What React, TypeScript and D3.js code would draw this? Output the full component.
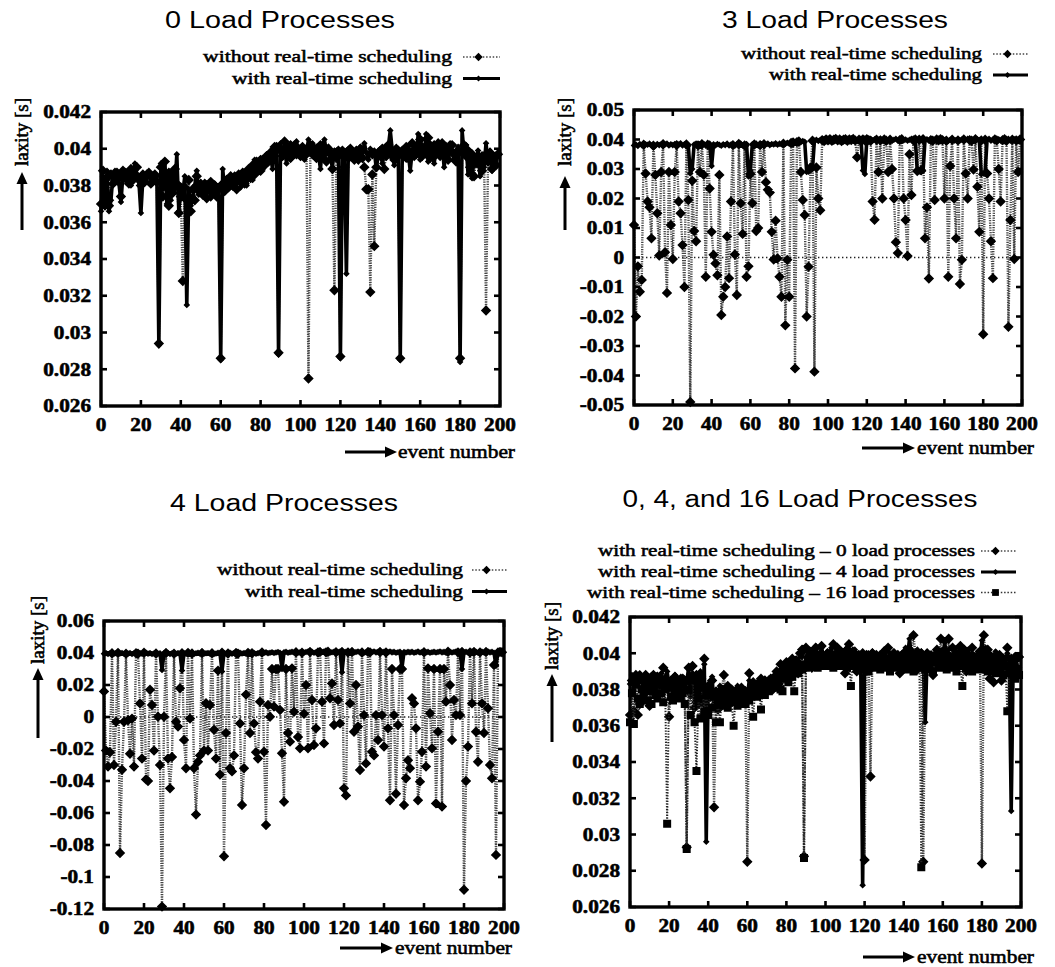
import React from 'react';
import * as d3 from 'd3';

// ---------------- data ----------------
const X_TICKS = [0, 20, 40, 60, 80, 100, 120, 140, 160, 180, 200];
const Y_TICKS_FINE = [0.026, 0.028, 0.03, 0.032, 0.034, 0.036, 0.038, 0.04, 0.042];
const Y_TICKS_3LOAD = [-0.05, -0.04, -0.03, -0.02, -0.01, 0, 0.01, 0.02, 0.03, 0.04, 0.05];
const Y_TICKS_4LOAD = [-0.12, -0.1, -0.08, -0.06, -0.04, -0.02, 0, 0.02, 0.04, 0.06];

const TITLES = ['0 Load Processes', '3 Load Processes', '4 Load Processes', '0, 4, and 16 Load Processes'];
const LEGEND_RT = ['without real-time scheduling', 'with real-time scheduling'];
const LEGEND_MIX = [
  'with real-time scheduling – 0 load processes',
  'with real-time scheduling – 4 load processes',
  'with real-time scheduling – 16 load processes',
];
const Y_LABEL = 'laxity [s]';
const X_LABEL = 'event number';

// 0 load processes, with real-time scheduling (also used in the combined panel)
const RT_0LOAD = [
  0.0366, 0.0385, 0.0368, 0.0388, 0.0366, 0.0372, 0.0386, 0.0384, 0.0388, 0.0381,
  0.0371, 0.0386, 0.0388, 0.0383, 0.0387, 0.0380, 0.0385, 0.0392, 0.0386, 0.0382,
  0.0365, 0.0384, 0.0383, 0.0387, 0.0385, 0.0384, 0.0386, 0.0383, 0.0385, 0.0293,
  0.0392, 0.0378, 0.0393, 0.0370, 0.0388, 0.0372, 0.0384, 0.0378, 0.0397, 0.0366,
  0.0380, 0.0376, 0.0385, 0.0315, 0.0378, 0.0369, 0.0374, 0.0380, 0.0388, 0.0375,
  0.0382, 0.0377, 0.0380, 0.0376, 0.0379, 0.0373, 0.0378, 0.0381, 0.0376, 0.0379,
  0.0285, 0.0389, 0.0378, 0.0384, 0.0380, 0.0383, 0.0379, 0.0386, 0.0381, 0.0385,
  0.0379, 0.0384, 0.0386, 0.0380, 0.0387, 0.0390, 0.0383, 0.0394, 0.0388, 0.0392,
  0.0395, 0.0389, 0.0393, 0.0397, 0.0394, 0.0396, 0.0389, 0.0400, 0.0402, 0.0288,
  0.0403, 0.0398, 0.0401, 0.0392, 0.0400, 0.0403, 0.0396, 0.0399, 0.0404, 0.0397,
  0.0395, 0.0400, 0.0394, 0.0398, 0.0405, 0.0399, 0.0403, 0.0396, 0.0401, 0.0397,
  0.0389, 0.0402, 0.0405, 0.0398, 0.0401, 0.0395, 0.0390, 0.0399, 0.0394, 0.0400,
  0.0286, 0.0399, 0.0396, 0.0332, 0.0400, 0.0397, 0.0399, 0.0395, 0.0398, 0.0393,
  0.0401, 0.0396, 0.0403, 0.0398, 0.0394, 0.0400, 0.0396, 0.0399, 0.0389, 0.0397,
  0.0400, 0.0392, 0.0398, 0.0395, 0.0401, 0.0410, 0.0399, 0.0391, 0.0397, 0.0400,
  0.0285, 0.0396, 0.0400, 0.0394, 0.0398, 0.0388, 0.0399, 0.0402, 0.0396, 0.0408,
  0.0394, 0.0402, 0.0397, 0.0408, 0.0393, 0.0403, 0.0398, 0.0392, 0.0400, 0.0404,
  0.0397, 0.0402, 0.0390, 0.0399, 0.0396, 0.0403, 0.0398, 0.0394, 0.0399, 0.0401,
  0.0284, 0.0410, 0.0397, 0.0402, 0.0386, 0.0398, 0.0384, 0.0395, 0.0391, 0.0399,
  0.0385, 0.0397, 0.0390, 0.0403, 0.0392, 0.0397, 0.0388, 0.0396, 0.0392, 0.0398,
];

// 0 load processes, without real-time scheduling
const NORT_0LOAD = [
  0.0370, 0.0388, 0.0376, 0.0384, 0.0369, 0.0386, 0.0381, 0.0387, 0.0383, 0.0385,
  0.0374, 0.0388, 0.0384, 0.0386, 0.0381, 0.0389, 0.0383, 0.0386, 0.0390, 0.0384,
  0.0380, 0.0386, 0.0382, 0.0385, 0.0387, 0.0381, 0.0384, 0.0386, 0.0382, 0.0294,
  0.0390, 0.0374, 0.0393, 0.0383, 0.0369, 0.0386, 0.0376, 0.0389, 0.0381, 0.0365,
  0.0374, 0.0328, 0.0379, 0.0372, 0.0383, 0.0366, 0.0378, 0.0372, 0.0385, 0.0377,
  0.0379, 0.0375, 0.0381, 0.0373, 0.0378, 0.0382, 0.0376, 0.0380, 0.0374, 0.0378,
  0.0286, 0.0381, 0.0377, 0.0383, 0.0379, 0.0385, 0.0380, 0.0384, 0.0378, 0.0386,
  0.0382, 0.0387, 0.0381, 0.0385, 0.0389, 0.0384, 0.0391, 0.0386, 0.0393, 0.0390,
  0.0388, 0.0394, 0.0391, 0.0396, 0.0393, 0.0398, 0.0395, 0.0401, 0.0399, 0.0289,
  0.0400, 0.0396, 0.0404, 0.0398, 0.0401, 0.0395, 0.0399, 0.0402, 0.0397, 0.0400,
  0.0398, 0.0401, 0.0396, 0.0399, 0.0275, 0.0402, 0.0397, 0.0400, 0.0395, 0.0399,
  0.0402, 0.0396, 0.0399, 0.0393, 0.0400, 0.0397, 0.0389, 0.0323, 0.0398, 0.0396,
  0.0287, 0.0399, 0.0390, 0.0398, 0.0395, 0.0400, 0.0397, 0.0394, 0.0399, 0.0396,
  0.0400, 0.0395, 0.0390, 0.0378, 0.0378, 0.0322, 0.0386, 0.0347, 0.0390, 0.0398,
  0.0396, 0.0400, 0.0389, 0.0398, 0.0402, 0.0397, 0.0399, 0.0394, 0.0400, 0.0396,
  0.0286, 0.0399, 0.0397, 0.0401, 0.0395, 0.0398, 0.0403, 0.0396, 0.0400, 0.0398,
  0.0405, 0.0396, 0.0400, 0.0398, 0.0406, 0.0395, 0.0399, 0.0402, 0.0397, 0.0400,
  0.0396, 0.0403, 0.0398, 0.0401, 0.0394, 0.0399, 0.0402, 0.0397, 0.0393, 0.0399,
  0.0286, 0.0398, 0.0402, 0.0396, 0.0399, 0.0390, 0.0397, 0.0385, 0.0394, 0.0392,
  0.0395, 0.0388, 0.0396, 0.0312, 0.0393, 0.0398, 0.0389, 0.0395, 0.0391, 0.0397,
];

// 3 load processes, with real-time scheduling
const RT_3LOAD = [
  0.0380, 0.0383, 0.0378, 0.0385, 0.0381, 0.0379, 0.0384, 0.0382, 0.0386, 0.0380,
  0.0383, 0.0379, 0.0385, 0.0381, 0.0384, 0.0378, 0.0383, 0.0386, 0.0380, 0.0384,
  0.0381, 0.0385, 0.0379, 0.0383, 0.0387, 0.0380, 0.0384, 0.0382, 0.0379, 0.0285,
  0.0300, 0.0383, 0.0386, 0.0380, 0.0384, 0.0381, 0.0385, 0.0379, 0.0383, 0.0386,
  0.0310, 0.0384, 0.0380, 0.0385, 0.0382, 0.0379, 0.0384, 0.0381, 0.0386, 0.0380,
  0.0383, 0.0385, 0.0379, 0.0384, 0.0381, 0.0386, 0.0380, 0.0383, 0.0385, 0.0275,
  0.0295, 0.0384, 0.0381, 0.0386, 0.0380, 0.0385, 0.0382, 0.0379, 0.0384, 0.0386,
  0.0381, 0.0385, 0.0383, 0.0387, 0.0382, 0.0386, 0.0384, 0.0388, 0.0385, 0.0389,
  0.0386, 0.0390, 0.0388, 0.0392, 0.0389, 0.0393, 0.0391, 0.0395, 0.0392, 0.0290,
  0.0291, 0.0295, 0.0300, 0.0396, 0.0399, 0.0395, 0.0398, 0.0401, 0.0396, 0.0399,
  0.0397, 0.0400, 0.0395, 0.0399, 0.0402, 0.0396, 0.0398, 0.0401, 0.0397, 0.0400,
  0.0396, 0.0399, 0.0402, 0.0397, 0.0400, 0.0395, 0.0398, 0.0401, 0.0295, 0.0283,
  0.0399, 0.0396, 0.0400, 0.0397, 0.0401, 0.0395, 0.0399, 0.0402, 0.0396, 0.0398,
  0.0401, 0.0397, 0.0400, 0.0395, 0.0399, 0.0402, 0.0396, 0.0398, 0.0401, 0.0397,
  0.0400, 0.0396, 0.0399, 0.0402, 0.0397, 0.0400, 0.0295, 0.0292, 0.0290, 0.0293,
  0.0398, 0.0401, 0.0396, 0.0400, 0.0397, 0.0399, 0.0402, 0.0396, 0.0398, 0.0401,
  0.0397, 0.0400, 0.0395, 0.0399, 0.0402, 0.0396, 0.0398, 0.0401, 0.0397, 0.0400,
  0.0396, 0.0399, 0.0402, 0.0397, 0.0400, 0.0395, 0.0399, 0.0401, 0.0398, 0.0282,
  0.0285, 0.0290, 0.0399, 0.0402, 0.0396, 0.0400, 0.0397, 0.0399, 0.0401, 0.0396,
  0.0400, 0.0397, 0.0399, 0.0402, 0.0396, 0.0398, 0.0401, 0.0397, 0.0400, 0.0398,
];

// 3 load processes, without real-time scheduling
const NORT_3LOAD = [
  0.011, -0.020, -0.003, -0.0116, -0.0076, 0.0382, 0.0285, 0.019, 0.017, 0.0065,
  0.0379, 0.028, 0.015, 0.0007, 0.029, 0.0384, 0.0018, -0.012, 0.029, 0.011,
  -0.0005, 0.029, 0.0381, 0.019, 0.015, 0.0042, -0.010, 0.0383, 0.0195, -0.049,
  0.026, 0.009, 0.0055, 0.0380, 0.029, 0.0384, 0.028, -0.0065, 0.0382, 0.0234,
  0.0087, 0.0009, -0.002, -0.006, 0.028, -0.0195, -0.0133, -0.010, 0.0071, -0.007,
  0.019, 0.0381, 0.001, -0.0127, 0.0385, 0.0184, 0.008, 0.0380, -0.0065, -0.003,
  0.0283, 0.0184, 0.0383, 0.009, 0.010, 0.0381, 0.029, 0.0384, 0.0255, 0.023,
  0.022, 0.0087, -0.0007, 0.0125, -0.0003, -0.0065, -0.0133, 0.0386, -0.023, -0.0008,
  -0.0133, 0.0388, 0.0390, -0.0376, 0.0391, 0.0393, 0.029, 0.0195, 0.0144, -0.020,
  -0.0031, 0.0305, 0.0396, -0.0387, 0.0305, 0.020, 0.016, 0.0398, 0.0395, 0.0400,
  0.0397, 0.0401, 0.0396, 0.0399, 0.0402, 0.0397, 0.0400, 0.0395, 0.0399, 0.0401,
  0.0396, 0.0400, 0.0398, 0.0402, 0.0397, 0.034, 0.0399, 0.0396, 0.0400, 0.0397,
  0.0401, 0.0398, 0.0396, 0.019, 0.0128, 0.0399, 0.029, 0.0397, 0.020, 0.0400,
  0.0396, 0.029, 0.0399, 0.030, 0.020, 0.0052, 0.0015, 0.0398, 0.0401, 0.020,
  0.0127, 0.0005, 0.035, 0.0212, 0.0397, 0.0400, 0.0293, 0.0399, 0.0296, 0.0401,
  0.0065, 0.017, -0.0071, 0.0398, 0.0396, 0.0195, 0.0400, 0.0397, 0.0401, 0.0398,
  0.020, 0.0396, -0.0065, 0.031, 0.0399, 0.020, 0.0065, 0.0397, -0.009, -0.0008,
  0.0400, 0.0285, 0.020, 0.0398, 0.0396, 0.0298, 0.0401, 0.024, 0.0087, 0.0397,
  -0.026, 0.0399, 0.0285, 0.020, 0.0055, -0.007, 0.0400, 0.0397, 0.030, 0.019,
  0.0398, 0.0401, 0.0396, -0.0235, 0.0127, 0.0399, -0.0005, 0.0397, 0.029, 0.0400,
];

// 4 load processes, with real-time scheduling
const RT_4LOAD = [
  0.0396, 0.0399, 0.0394, 0.0398, 0.0401, 0.0395, 0.0398, 0.0393, 0.0397, 0.0400,
  0.0395, 0.0399, 0.0396, 0.0400, 0.0394, 0.0398, 0.0401, 0.0396, 0.0399, 0.0395,
  0.0398, 0.0401, 0.0396, 0.0399, 0.0394, 0.0397, 0.0400, 0.0395, 0.0398, 0.0294,
  0.0399, 0.0396, 0.0400, 0.0394, 0.0398, 0.0401, 0.0395, 0.0399, 0.0396, 0.0290,
  0.0398, 0.0395, 0.0400, 0.0396, 0.0399, 0.0394, 0.0398, 0.0401, 0.0396, 0.0399,
  0.0395, 0.0398, 0.0400, 0.0396, 0.0399, 0.0394, 0.0397, 0.0401, 0.0396, 0.0285,
  0.0399, 0.0395, 0.0398, 0.0401, 0.0396, 0.0400, 0.0394, 0.0398, 0.0401, 0.0397,
  0.0400, 0.0396, 0.0399, 0.0402, 0.0397, 0.0400, 0.0395, 0.0399, 0.0402, 0.0398,
  0.0401, 0.0404, 0.0399, 0.0402, 0.0405, 0.0400, 0.0403, 0.0406, 0.0401, 0.0300,
  0.0404, 0.0407, 0.0402, 0.0405, 0.0408, 0.0403, 0.0406, 0.0402, 0.0405, 0.0408,
  0.0403, 0.0406, 0.0409, 0.0404, 0.0407, 0.0402, 0.0405, 0.0408, 0.0403, 0.0406,
  0.0409, 0.0404, 0.0407, 0.0402, 0.0405, 0.0408, 0.0403, 0.0406, 0.0409, 0.0280,
  0.0404, 0.0407, 0.0402, 0.0405, 0.0408, 0.0403, 0.0406, 0.0409, 0.0404, 0.0407,
  0.0402, 0.0405, 0.0408, 0.0403, 0.0406, 0.0409, 0.0404, 0.0407, 0.0402, 0.0405,
  0.0408, 0.0403, 0.0406, 0.0409, 0.0404, 0.0407, 0.0402, 0.0405, 0.0408, 0.0310,
  0.0406, 0.0403, 0.0407, 0.0404, 0.0408, 0.0402, 0.0405, 0.0409, 0.0403, 0.0406,
  0.0409, 0.0404, 0.0407, 0.0402, 0.0405, 0.0408, 0.0403, 0.0406, 0.0409, 0.0404,
  0.0407, 0.0402, 0.0405, 0.0408, 0.0403, 0.0406, 0.0409, 0.0404, 0.0407, 0.0300,
  0.0405, 0.0408, 0.0403, 0.0406, 0.0409, 0.0404, 0.0407, 0.0402, 0.0405, 0.0408,
  0.0403, 0.0406, 0.0409, 0.0404, 0.0407, 0.0402, 0.0320, 0.0405, 0.0408, 0.0404,
];

// 4 load processes, without real-time scheduling
const NORT_4LOAD = [
  0.016, -0.021, -0.031, -0.022, 0.0398, -0.030, -0.003, 0.0401, -0.085, -0.033,
  -0.003, 0.0396, -0.002, -0.023, -0.001, -0.031, 0.0399, 0.0395, 0.0085, -0.026,
  0.0402, -0.039, -0.040, 0.017, 0.0075, -0.021, 0.0397, 0.0002, -0.030, -0.1185,
  0.0002, 0.0400, -0.026, -0.0446, -0.025, 0.0396, -0.003, -0.006, 0.018, 0.0399,
  -0.0143, -0.032, 0.0401, -0.001, 0.0397, -0.032, -0.061, -0.028, -0.024, 0.0400,
  -0.021, 0.0086, -0.021, 0.0075, 0.0398, -0.008, -0.026, 0.029, -0.036, 0.0402,
  -0.087, -0.010, 0.0397, -0.032, -0.034, -0.024, 0.0400, 0.0396, -0.004, -0.055,
  -0.032, 0.014, 0.0401, -0.010, 0.0398, -0.004, -0.022, -0.026, 0.0096, 0.0403,
  -0.0217, -0.0675, 0.0075, 0.0002, 0.030, 0.0065, 0.030, 0.030, 0.0044, -0.0227,
  -0.053, 0.030, -0.010, -0.0154, 0.0304, 0.0033, 0.0405, -0.0125, -0.0196, 0.0402,
  0.002, 0.020, -0.0196, 0.0406, 0.0106, -0.0175, -0.0071, 0.0403, 0.0407, 0.0096,
  -0.0165, 0.0404, 0.0408, 0.0117, 0.021, -0.005, 0.0405, 0.0106, -0.004, 0.0407,
  -0.0446, -0.049, 0.0404, 0.0085, 0.0406, -0.0092, 0.020, -0.006, -0.0331, 0.0403,
  0.0012, -0.029, 0.0407, 0.0404, -0.0217, -0.024, 0.0012, -0.0144, 0.0406, 0.0012,
  -0.0185, 0.0403, -0.0071, -0.052, 0.030, 0.0012, -0.048, -0.005, 0.030, 0.030,
  -0.055, -0.0383, -0.027, -0.032, 0.0117, 0.0085, -0.0071, -0.052, -0.0404, -0.0217,
  0.0405, -0.031, 0.0304, 0.0023, -0.0196, 0.030, -0.054, -0.0092, 0.030, -0.056,
  0.030, 0.0096, 0.0408, 0.020, -0.0144, 0.0106, 0.0012, 0.0404, 0.0012, 0.0406,
  -0.108, -0.040, -0.0185, 0.0403, 0.0085, 0.0407, -0.0092, -0.028, 0.0404, 0.0085,
  -0.010, 0.0406, 0.0054, -0.030, -0.0383, 0.0325, -0.0862, 0.0403, 0.0407, 0.0405,
];

// combined panel: 4 load processes with real-time scheduling
const RT_4LOAD_FINE = [
  0.0383, 0.0388, 0.0379, 0.0386, 0.0382, 0.0389, 0.0384, 0.0380, 0.0387, 0.0385,
  0.0381, 0.0388, 0.0384, 0.0386, 0.0379, 0.0385, 0.0389, 0.0383, 0.0386, 0.0390,
  0.0382, 0.0386, 0.0384, 0.0388, 0.0381, 0.0385, 0.0383, 0.0387, 0.0380, 0.0384,
  0.0392, 0.0376, 0.0389, 0.0373, 0.0385, 0.0378, 0.0390, 0.0372, 0.0394, 0.0296,
  0.0383, 0.0375, 0.0387, 0.0370, 0.0380, 0.0376, 0.0382, 0.0374, 0.0379, 0.0377,
  0.0381, 0.0376, 0.0380, 0.0374, 0.0378, 0.0382, 0.0375, 0.0379, 0.0377, 0.0380,
  0.0376, 0.0385, 0.0378, 0.0383, 0.0380, 0.0384, 0.0379, 0.0386, 0.0382, 0.0385,
  0.0381, 0.0386, 0.0383, 0.0387, 0.0384, 0.0389, 0.0385, 0.0391, 0.0388, 0.0393,
  0.0389, 0.0394, 0.0391, 0.0396, 0.0393, 0.0397, 0.0395, 0.0400, 0.0398, 0.0401,
  0.0403, 0.0398, 0.0401, 0.0396, 0.0400, 0.0404, 0.0397, 0.0400, 0.0403, 0.0398,
  0.0396, 0.0401, 0.0399, 0.0403, 0.0397, 0.0400, 0.0404, 0.0398, 0.0401, 0.0396,
  0.0400, 0.0403, 0.0397, 0.0401, 0.0398, 0.0402, 0.0395, 0.0399, 0.0396, 0.0272,
  0.0398, 0.0395, 0.0400, 0.0397, 0.0401, 0.0394, 0.0399, 0.0396, 0.0400, 0.0397,
  0.0402, 0.0398, 0.0395, 0.0400, 0.0397, 0.0401, 0.0394, 0.0399, 0.0396, 0.0400,
  0.0397, 0.0403, 0.0399, 0.0408, 0.0396, 0.0400, 0.0397, 0.0402, 0.0398, 0.0401,
  0.0395, 0.0362, 0.0399, 0.0396, 0.0400, 0.0393, 0.0398, 0.0402, 0.0397, 0.0401,
  0.0398, 0.0406, 0.0397, 0.0400, 0.0395, 0.0399, 0.0402, 0.0396, 0.0400, 0.0397,
  0.0401, 0.0395, 0.0399, 0.0402, 0.0397, 0.0400, 0.0394, 0.0398, 0.0401, 0.0396,
  0.0407, 0.0399, 0.0403, 0.0397, 0.0400, 0.0395, 0.0398, 0.0401, 0.0396, 0.0399,
  0.0393, 0.0398, 0.0395, 0.0400, 0.0397, 0.0313, 0.0395, 0.0399, 0.0396, 0.0398,
];

// combined panel: 16 load processes with real-time scheduling
const RT_16LOAD = [
  0.0362, 0.0378, 0.0361, 0.0383, 0.0375, 0.0372, 0.0380, 0.0376, 0.0382, 0.0374,
  0.0379, 0.0372, 0.0381, 0.0377, 0.0375, 0.0383, 0.0378, 0.0373, 0.0380, 0.0306,
  0.0381, 0.0376, 0.0374, 0.0379, 0.0377, 0.0382, 0.0375, 0.0378, 0.0372, 0.0292,
  0.0380, 0.0366, 0.0385, 0.0362, 0.0335, 0.0375, 0.0364, 0.0381, 0.0368, 0.0377,
  0.0366, 0.0379, 0.0370, 0.0376, 0.0362, 0.0372, 0.0362, 0.0375, 0.0371, 0.0374,
  0.0370, 0.0376, 0.0373, 0.0360, 0.0375, 0.0371, 0.0377, 0.0373, 0.0376, 0.0372,
  0.0378, 0.0374, 0.0377, 0.0365, 0.0379, 0.0376, 0.0380, 0.0369, 0.0381, 0.0377,
  0.0383, 0.0379, 0.0384, 0.0381, 0.0386, 0.0382, 0.0385, 0.0380, 0.0379, 0.0386,
  0.0388, 0.0384, 0.0390, 0.0387, 0.0379, 0.0392, 0.0389, 0.0394, 0.0391, 0.0287,
  0.0392, 0.0396, 0.0393, 0.0398, 0.0394, 0.0397, 0.0392, 0.0399, 0.0395, 0.0398,
  0.0393, 0.0397, 0.0394, 0.0399, 0.0392, 0.0396, 0.0398, 0.0393, 0.0397, 0.0394,
  0.0398, 0.0392, 0.0396, 0.0382, 0.0397, 0.0393, 0.0398, 0.0394, 0.0391, 0.0396,
  0.0393, 0.0397, 0.0390, 0.0395, 0.0392, 0.0396, 0.0394, 0.0398, 0.0391, 0.0395,
  0.0392, 0.0397, 0.0394, 0.0390, 0.0396, 0.0393, 0.0398, 0.0392, 0.0395, 0.0393,
  0.0397, 0.0391, 0.0396, 0.0393, 0.0398, 0.0390, 0.0395, 0.0392, 0.0396, 0.0282,
  0.0394, 0.0391, 0.0397, 0.0393, 0.0396, 0.0390, 0.0395, 0.0398, 0.0392, 0.0396,
  0.0393, 0.0397, 0.0391, 0.0395, 0.0392, 0.0398, 0.0394, 0.0390, 0.0396, 0.0393,
  0.0382, 0.0395, 0.0392, 0.0397, 0.0394, 0.0390, 0.0396, 0.0393, 0.0395, 0.0391,
  0.0397, 0.0393, 0.0396, 0.0390, 0.0395, 0.0392, 0.0397, 0.0389, 0.0394, 0.0391,
  0.0395, 0.0388, 0.0393, 0.0368, 0.0392, 0.0389, 0.0394, 0.0386, 0.0391, 0.0388,
];

// ---------------- rendering ----------------
const SERIF = "'Liberation Serif', 'Times New Roman', Times, serif";
const SANS = "'Liberation Sans', Arial, Helvetica, sans-serif";
const SX = 1.18;

type Kind = 'wo' | 'rt' | 'sq';

function diamonds(pts: [number, number][], r: number) {
  return pts.map(([cx, cy]) => `M${cx},${cy - r}L${cx + r},${cy}L${cx},${cy + r}L${cx - r},${cy}Z`).join('');
}
function squares(pts: [number, number][], h: number) {
  return pts.map(([cx, cy]) => `M${cx - h},${cy - h}h${2 * h}v${2 * h}h${-2 * h}Z`).join('');
}

function Marks({ pts, kind }: { pts: [number, number][]; kind: Kind }) {
  const line = d3.line()(pts) || '';
  if (kind === 'wo') {
    return (
      <g>
        <path d={line} fill="none" stroke="#444" strokeWidth={2.4} strokeDasharray="1.2 1.2" />
        <path d={diamonds(pts, 5.2)} fill="#000" />
      </g>
    );
  }
  if (kind === 'rt') {
    return (
      <g>
        <path d={line} fill="none" stroke="#000" strokeWidth={3.6} strokeLinejoin="round" />
        <path d={diamonds(pts, 3.3)} fill="#000" />
      </g>
    );
  }
  return (
    <g>
      <path d={line} fill="none" stroke="#222" strokeWidth={2} strokeDasharray="1.3 1.5" />
      <path d={squares(pts, 4)} fill="#000" />
    </g>
  );
}

function Sample({ kind, x1, x2, y }: { kind: Kind; x1: number; x2: number; y: number }) {
  const xm = (x1 + x2) / 2 - 3;
  if (kind === 'wo')
    return (
      <g>
        <line x1={x1} x2={x2} y1={y} y2={y} stroke="#444" strokeWidth={1.6} strokeDasharray="1.5 1.8" />
        <path d={diamonds([[xm, y]], 4.2)} fill="#000" />
      </g>
    );
  if (kind === 'rt')
    return (
      <g>
        <line x1={x1} x2={x2} y1={y} y2={y} stroke="#000" strokeWidth={3} />
        <path d={diamonds([[xm, y]], 3)} fill="#000" />
      </g>
    );
  return (
    <g>
      <line x1={x1} x2={x2} y1={y} y2={y} stroke="#333" strokeWidth={1.6} strokeDasharray="1.5 1.8" />
      <path d={squares([[xm, y]], 3.4)} fill="#000" />
    </g>
  );
}

function Arrow({ x1, y1, x2, y2 }: { x1: number; y1: number; x2: number; y2: number }) {
  const a = Math.atan2(y2 - y1, x2 - x1);
  const len = 12, hw = 5.5;
  const bx = x2 - len * Math.cos(a), by = y2 - len * Math.sin(a);
  const px = -Math.sin(a) * hw, py = Math.cos(a) * hw;
  return (
    <g>
      <line x1={x1} y1={y1} x2={bx} y2={by} stroke="#000" strokeWidth={3} />
      <path d={`M${x2},${y2}L${bx + px},${by + py}L${bx - px},${by - py}Z`} fill="#000" />
    </g>
  );
}

const fmt = (v: number) => String(Number(v.toFixed(4)));

type PanelCfg = {
  L: number; T: number; R: number; B: number;
  yDomain: [number, number]; yTicks: number[];
  series: { values: number[]; kind: Kind }[];
  zero: boolean;
  title: string; titleX: number; titleY: number; titleW: number;
  legend: string[]; legendKinds: Kind[]; legendRight: number; legendYs: number[]; legendWs: number[];
  sampleX1: number; sampleX2: number;
  xArrow: [number, number]; xTextX: number; xTextY: number;
  yLabX: number; yTextC: number; yArrow: [number, number];
};

const heavy = { stroke: '#000', strokeWidth: 0.55, paintOrder: 'stroke' as const };

function Panel({ c }: { c: PanelCfg }) {
  const x = d3.scaleLinear().domain([0, 200]).range([c.L, c.R]);
  const y = d3.scaleLinear().domain(c.yDomain).range([c.B, c.T]);
  return (
    <g>
      <text x={c.titleX} y={c.titleY} textAnchor="middle" dominantBaseline="central" fontFamily={SANS}
        fontSize={23} textLength={c.titleW} lengthAdjust="spacingAndGlyphs" fill="#000">{c.title}</text>
      {c.legend.map((t, i) => (
        <g key={i}>
          <text x={c.legendRight} y={c.legendYs[i]} textAnchor="end" fontFamily={SERIF} fontSize={17.5}
            textLength={c.legendWs[i]} lengthAdjust="spacingAndGlyphs" fill="#000" {...heavy}>{t}</text>
          <Sample kind={c.legendKinds[i]} x1={c.sampleX1} x2={c.sampleX2} y={c.legendYs[i] - 5} />
        </g>
      ))}
      {c.zero && (
        <line x1={c.L} x2={c.R} y1={y(0)} y2={y(0)} stroke="#222" strokeWidth={1.3} strokeDasharray="1.4 2.6" />
      )}
      {c.series.map((s, i) => (
        <Marks key={i} kind={s.kind} pts={s.values.map((v, k) => [x(k), y(v)] as [number, number])} />
      ))}
      <rect x={c.L} y={c.T} width={c.R - c.L} height={c.B - c.T} fill="none" stroke="#000" strokeWidth={3.4} />
      {X_TICKS.map((t) => (
        <g key={'x' + t}>
          <line x1={x(t)} x2={x(t)} y1={c.B} y2={c.B - 6} stroke="#000" strokeWidth={2.6} />
          <line x1={x(t)} x2={x(t)} y1={c.T} y2={c.T + 6} stroke="#000" strokeWidth={2.6} />
          <text transform={`translate(${x(t)},${c.B + 19}) scale(${SX},1)`} textAnchor="middle" dominantBaseline="central"
            fontFamily={SERIF} fontWeight="bold" fontSize={18} fill="#000" {...heavy}>{fmt(t)}</text>
        </g>
      ))}
      {c.yTicks.map((t) => (
        <g key={'y' + t}>
          <line x1={c.L} x2={c.L + 6} y1={y(t)} y2={y(t)} stroke="#000" strokeWidth={2.6} />
          <line x1={c.R} x2={c.R - 6} y1={y(t)} y2={y(t)} stroke="#000" strokeWidth={2.6} />
          <text transform={`translate(${c.L - 10},${y(t)}) scale(${SX},1)`} textAnchor="end" dominantBaseline="central"
            fontFamily={SERIF} fontWeight="bold" fontSize={18} fill="#000" {...heavy}>{fmt(t)}</text>
        </g>
      ))}
      <Arrow x1={c.xArrow[0]} y1={c.xTextY} x2={c.xArrow[1]} y2={c.xTextY} />
      <text x={c.xTextX} y={c.xTextY} dominantBaseline="central" fontFamily={SERIF} fontSize={18}
        textLength={117} lengthAdjust="spacingAndGlyphs" fill="#000" {...heavy}>{X_LABEL}</text>
      <Arrow x1={c.yLabX} y1={c.yArrow[0]} x2={c.yLabX} y2={c.yArrow[1]} />
      <text transform={`translate(${c.yLabX},${c.yTextC}) rotate(-90)`} textAnchor="middle" dominantBaseline="central"
        fontFamily={SERIF} fontSize={18} textLength={68} lengthAdjust="spacingAndGlyphs" fill="#000" {...heavy}>{Y_LABEL}</text>
    </g>
  );
}

const PANELS: PanelCfg[] = [
  {
    L: 101, T: 112, R: 500, B: 406, yDomain: [0.026, 0.042], yTicks: Y_TICKS_FINE,
    series: [{ values: NORT_0LOAD, kind: 'wo' }, { values: RT_0LOAD, kind: 'rt' }], zero: false,
    title: TITLES[0], titleX: 280, titleY: 20, titleW: 230,
    legend: LEGEND_RT, legendKinds: ['wo', 'rt'], legendRight: 452, legendYs: [62, 83.5], legendWs: [249, 220],
    sampleX1: 463, sampleX2: 500,
    xArrow: [345, 397], xTextX: 398, xTextY: 452, yLabX: 22, yTextC: 132, yArrow: [230, 172],
  },
  {
    L: 634, T: 110, R: 1022, B: 405, yDomain: [-0.05, 0.05], yTicks: Y_TICKS_3LOAD,
    series: [{ values: NORT_3LOAD, kind: 'wo' }, { values: RT_3LOAD, kind: 'rt' }], zero: true,
    title: TITLES[1], titleX: 835, titleY: 20, titleW: 226,
    legend: LEGEND_RT, legendKinds: ['wo', 'rt'], legendRight: 982, legendYs: [59, 80], legendWs: [241, 213],
    sampleX1: 993, sampleX2: 1028,
    xArrow: [862, 915], xTextX: 917, xTextY: 448, yLabX: 565, yTextC: 132, yArrow: [230, 176],
  },
  {
    L: 104, T: 621, R: 504, B: 909, yDomain: [-0.12, 0.06], yTicks: Y_TICKS_4LOAD,
    series: [{ values: NORT_4LOAD, kind: 'wo' }, { values: RT_4LOAD, kind: 'rt' }], zero: true,
    title: TITLES[2], titleX: 284, titleY: 503, titleW: 228,
    legend: LEGEND_RT, legendKinds: ['wo', 'rt'], legendRight: 463, legendYs: [575, 596.5], legendWs: [246, 218],
    sampleX1: 472, sampleX2: 507,
    xArrow: [340, 393], xTextX: 395, xTextY: 948, yLabX: 38, yTextC: 630, yArrow: [738, 668],
  },
  {
    L: 630, T: 617, R: 1021, B: 907, yDomain: [0.026, 0.042], yTicks: Y_TICKS_FINE,
    series: [
      { values: RT_0LOAD, kind: 'wo' },
      { values: RT_4LOAD_FINE, kind: 'rt' },
      { values: RT_16LOAD, kind: 'sq' },
    ], zero: false,
    title: TITLES[3], titleX: 800, titleY: 499, titleW: 355,
    legend: LEGEND_MIX, legendKinds: ['wo', 'rt', 'sq'], legendRight: 975, legendYs: [556, 577, 597.5], legendWs: [377, 377, 388],
    sampleX1: 981, sampleX2: 1016,
    xArrow: [863, 915], xTextX: 917, xTextY: 957, yLabX: 552, yTextC: 636, yArrow: [742, 674],
  },
];

export default function App() {
  return (
    <svg width={1055} height={967} viewBox="0 0 1055 967"
      style={{ position: 'absolute', left: 0, top: 0, background: '#fff' }}>
      <rect width={1055} height={967} fill="#fff" />
      {PANELS.map((c, i) => <Panel key={i} c={c} />)}
    </svg>
  );
}
